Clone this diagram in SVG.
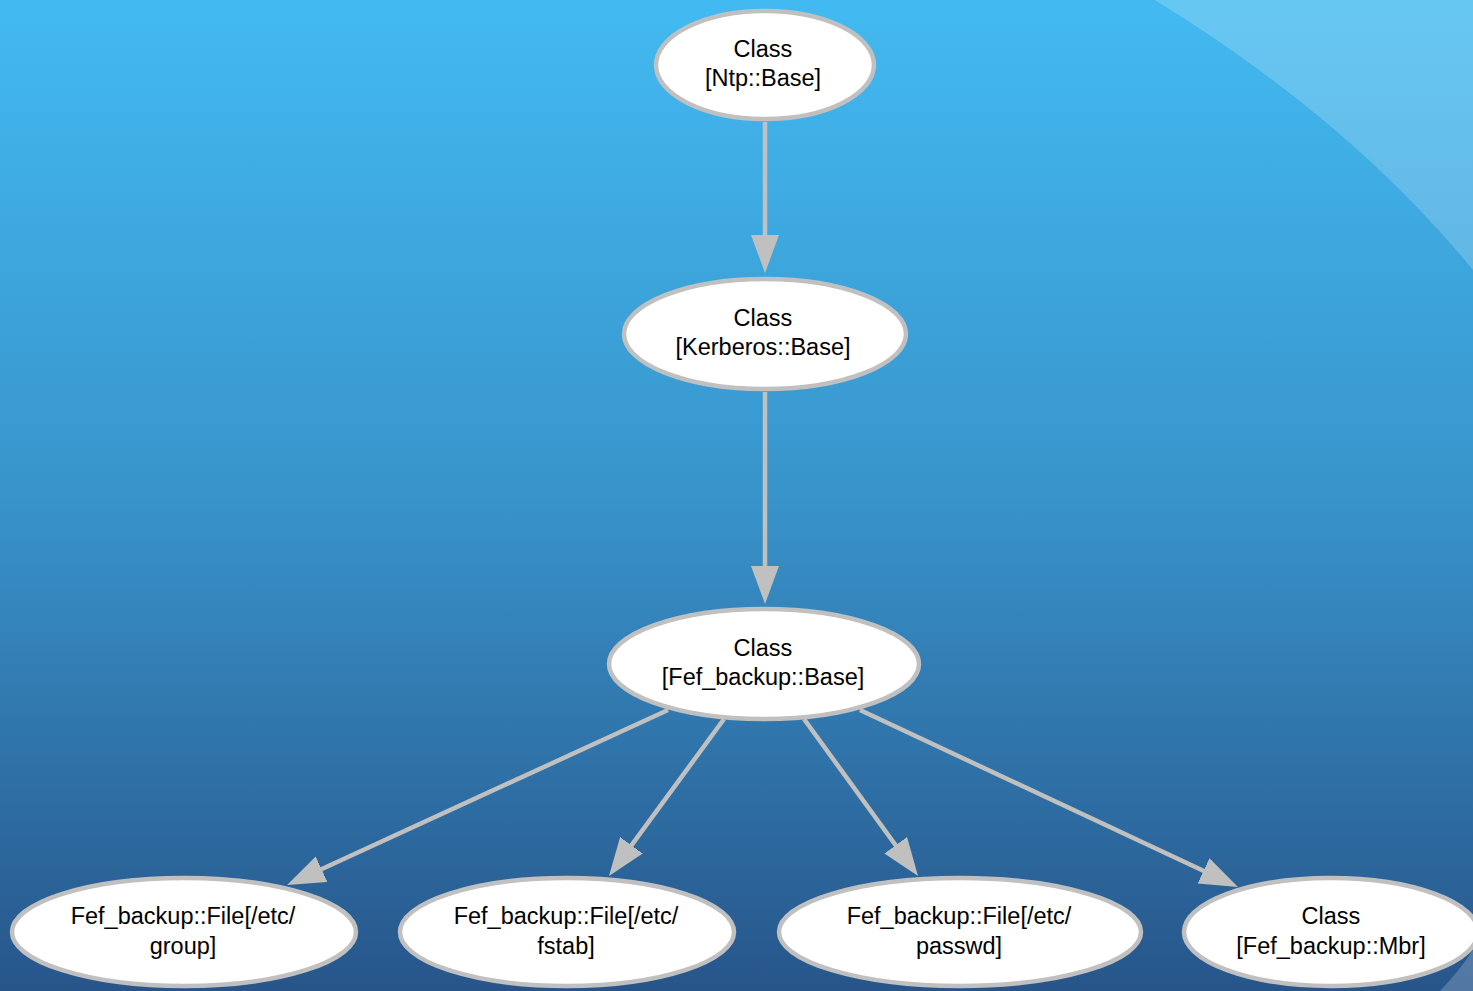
<svg xmlns="http://www.w3.org/2000/svg" width="1473" height="991" viewBox="0 0 1473 991">
  <defs>
    <linearGradient id="bg" x1="0" y1="0" x2="0" y2="1">
      <stop offset="0" stop-color="#42baf1"/>
      <stop offset="0.5" stop-color="#3894cb"/>
      <stop offset="1" stop-color="#27558a"/>
    </linearGradient>
    <marker id="arrow" markerUnits="userSpaceOnUse" markerWidth="40" markerHeight="30" refX="8" refY="14" orient="auto" viewBox="0 0 40 30">
      <path d="M0,0 L38,14 L0,28 Z" fill="#c0c0c0"/>
    </marker>
  </defs>
  <style>
    .node ellipse { fill: #ffffff; stroke: #c0c0c0; stroke-width: 4.5; }
    .node text { font-family: "Liberation Sans", Arial, sans-serif; font-size: 23.5px; fill: #000000; text-anchor: middle; }
    .edge { stroke: #c0c0c0; stroke-width: 4.5; fill: none; marker-end: url(#arrow); }
  </style>
  <rect x="0" y="0" width="1473" height="991" fill="url(#bg)"/>
  <path d="M1155,0 Q1350,120 1473,270 L1473,0 Z" fill="#ffffff" fill-opacity="0.2"/>
  <path d="M1440,991 Q1460,970 1473,950 L1473,991 Z" fill="#ffffff" fill-opacity="0.2"/>

  <g id="edges">
    <line class="edge" x1="765" y1="122" x2="765" y2="243"/>
    <line class="edge" x1="765" y1="392" x2="765" y2="574"/>
    <line class="edge" x1="668" y1="710" x2="314.3" y2="872.5"/>
    <line class="edge" x1="724" y1="719" x2="626.7" y2="851.8"/>
    <line class="edge" x1="804" y1="719" x2="900.4" y2="851.7"/>
    <line class="edge" x1="860" y1="710" x2="1210.8" y2="874.3"/>
  </g>

  <g id="node-ntp" class="node">
    <ellipse cx="765" cy="65" rx="109" ry="54"/>
    <text x="763" y="57">Class</text>
    <text x="763" y="86">[Ntp::Base]</text>
  </g>
  <g id="node-kerberos" class="node">
    <ellipse cx="765" cy="334" rx="141" ry="55"/>
    <text x="763" y="326">Class</text>
    <text x="763" y="355">[Kerberos::Base]</text>
  </g>
  <g id="node-fef-base" class="node">
    <ellipse cx="764" cy="664" rx="155" ry="55"/>
    <text x="763" y="656">Class</text>
    <text x="763" y="685">[Fef_backup::Base]</text>
  </g>
  <g id="node-group" class="node">
    <ellipse cx="184" cy="932" rx="172" ry="54"/>
    <text x="183" y="924">Fef_backup::File[/etc/</text>
    <text x="183" y="954">group]</text>
  </g>
  <g id="node-fstab" class="node">
    <ellipse cx="567" cy="932" rx="167" ry="54"/>
    <text x="566" y="924">Fef_backup::File[/etc/</text>
    <text x="566" y="954">fstab]</text>
  </g>
  <g id="node-passwd" class="node">
    <ellipse cx="960" cy="932" rx="181" ry="54"/>
    <text x="959" y="924">Fef_backup::File[/etc/</text>
    <text x="959" y="954">passwd]</text>
  </g>
  <g id="node-mbr" class="node">
    <ellipse cx="1331" cy="932" rx="147" ry="54"/>
    <text x="1331" y="924">Class</text>
    <text x="1331" y="954">[Fef_backup::Mbr]</text>
  </g>
</svg>
